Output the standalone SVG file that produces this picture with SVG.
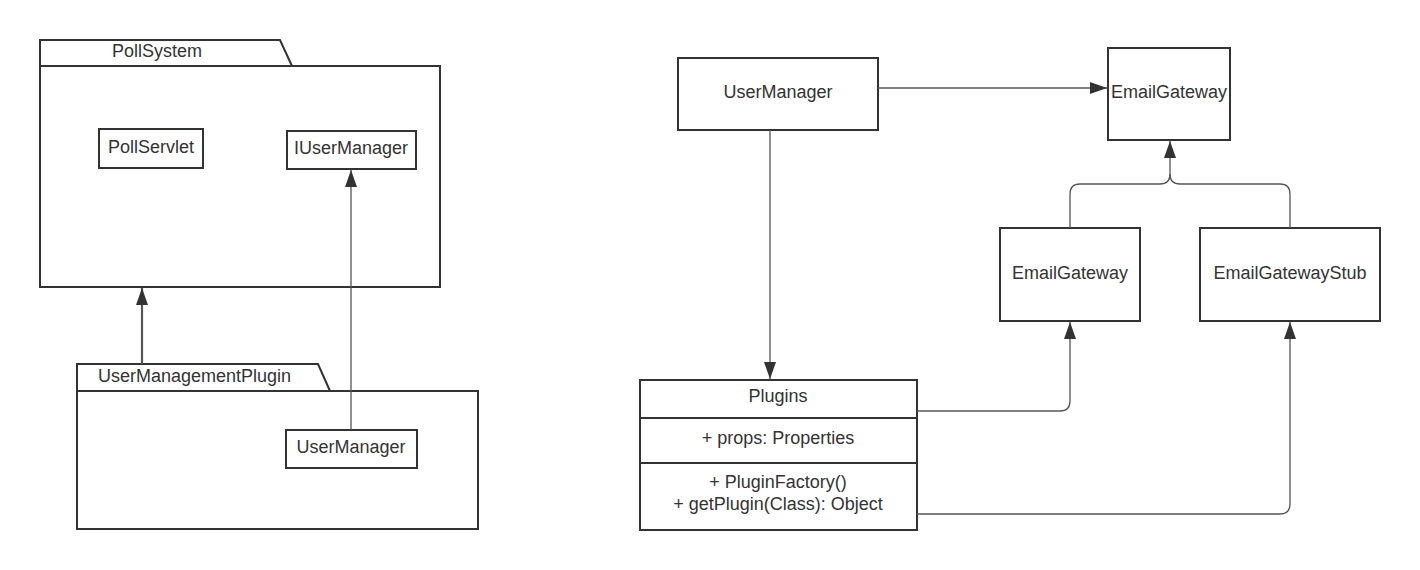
<svg xmlns="http://www.w3.org/2000/svg" width="1420" height="570" viewBox="0 0 1420 570">
<style>
.box{fill:#fff;stroke:#333;stroke-width:2}
.pkg{fill:#fff;stroke:#333;stroke-width:2;stroke-linejoin:miter}
.t{font-family:"Liberation Sans",Arial,sans-serif;font-size:18px;fill:#333}
.c{text-anchor:middle}
.ln{fill:none;stroke:#555;stroke-width:1.3}
.lnb{fill:none;stroke:#555;stroke-width:2.2}
</style>
<defs>
<marker id="ah" markerUnits="userSpaceOnUse" markerWidth="18" markerHeight="14" viewBox="0 0 18 14" refX="17" refY="7" orient="auto">
<path d="M0,1 L17,7 L0,13 Z" fill="#333"/>
</marker>
</defs>
<rect width="1420" height="570" fill="#fff"/>

<g id="PollSystem">
<path class="pkg" d="M40,66 L40,40 L280,40 L292,66"/>
<rect class="pkg" x="40" y="66" width="400" height="221"/>
<text class="t" x="112" y="57">PollSystem</text>
</g>
<g id="PollServlet">
<rect class="box" x="99" y="129" width="104" height="39"/>
<text class="t c" x="151" y="153">PollServlet</text>
</g>
<g id="IUserManager">
<rect class="box" x="287" y="131" width="129" height="38"/>
<text class="t c" x="351" y="154">IUserManager</text>
</g>

<g id="UserManagementPlugin">
<path class="pkg" d="M77,391 L77,364 L318,364 L330,391"/>
<rect class="pkg" x="77" y="391" width="401" height="138"/>
<text class="t" x="98" y="382">UserManagementPlugin</text>
</g>
<g id="UserManagerPkg">
<rect class="box" x="286" y="430" width="131" height="38"/>
<text class="t c" x="351" y="453">UserManager</text>
</g>

<g id="UserManager">
<rect class="box" x="678" y="58" width="200" height="72"/>
<text class="t c" x="778" y="98">UserManager</text>
</g>
<g id="EmailGatewayTop">
<rect class="box" x="1108" y="48" width="122" height="92"/>
<text class="t c" x="1169" y="98">EmailGateway</text>
</g>
<g id="EmailGateway">
<rect class="box" x="1000" y="228" width="140" height="93"/>
<text class="t c" x="1070" y="279">EmailGateway</text>
</g>
<g id="EmailGatewayStub">
<rect class="box" x="1200" y="228" width="180" height="93"/>
<text class="t c" x="1290" y="279">EmailGatewayStub</text>
</g>
<g id="Plugins">
<rect class="box" x="640" y="380" width="277" height="150"/>
<line x1="640" y1="418" x2="917" y2="418" stroke="#333" stroke-width="2"/>
<line x1="640" y1="463" x2="917" y2="463" stroke="#333" stroke-width="2"/>
<text class="t c" x="778" y="402">Plugins</text>
<text class="t c" x="778" y="444">+ props: Properties</text>
<text class="t c" x="778" y="488">+ PluginFactory()</text>
<text class="t c" x="778" y="510">+ getPlugin(Class): Object</text>
</g>

<g id="connectors">
<path class="ln" d="M351,430 L351,170" marker-end="url(#ah)"/>
<path class="lnb" d="M142,364 L142,288" marker-end="url(#ah)"/>
<path class="ln" d="M878,88 L1107,88" marker-end="url(#ah)"/>
<path class="ln" d="M770,130 L770,379" marker-end="url(#ah)"/>
<path class="ln" d="M1070,228 L1070,194 Q1070,184 1080,184 L1160,184 Q1170,184 1170,174 L1170,141" marker-end="url(#ah)"/>
<path class="ln" d="M1290,228 L1290,194 Q1290,184 1280,184 L1180,184 Q1170,184 1170,174"/>
<path class="ln" d="M917,411 L1060,411 Q1070,411 1070,401 L1070,322" marker-end="url(#ah)"/>
<path class="ln" d="M917,514 L1280,514 Q1290,514 1290,504 L1290,322" marker-end="url(#ah)"/>
</g>
</svg>
